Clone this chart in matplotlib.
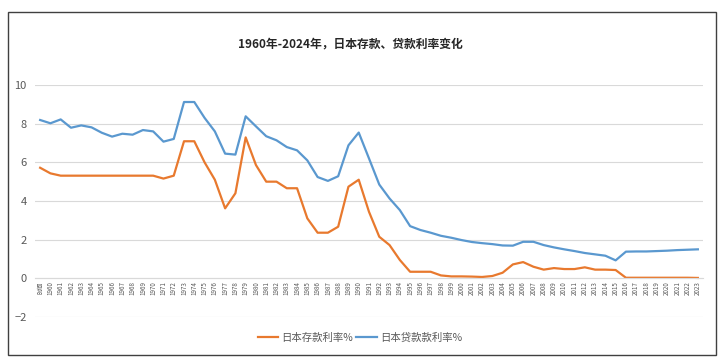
import numpy as np
import matplotlib
matplotlib.use('Agg')
import matplotlib.pyplot as plt
from matplotlib.patches import Rectangle

plt.rcParams['font.family'] = ['Noto Sans CJK SC', 'DejaVu Sans']

# categories (first one is the header cell that slipped into the axis)
categories = ['时间'] + [str(y) for y in range(1960, 2024)]

deposit = [
    5.72, 5.43, 5.31, 5.31, 5.31, 5.31, 5.31, 5.31, 5.31, 5.31,  # 时间, 1960-1968
    5.31, 5.31, 5.16, 5.31, 7.09, 7.09, 6.0, 5.1, 3.62, 4.4,     # 1969-1978
    7.29, 5.86, 5.0, 5.0, 4.66, 4.66, 3.1, 2.36, 2.36, 2.67,     # 1979-1988
    4.74, 5.1, 3.44, 2.15, 1.72, 0.95, 0.34, 0.34, 0.34, 0.15,   # 1989-1998
    0.1, 0.1, 0.09, 0.07, 0.12, 0.29, 0.72, 0.84, 0.6, 0.45,     # 1999-2008
    0.53, 0.48, 0.48, 0.57, 0.45, 0.45, 0.43, 0.03, 0.03, 0.03,  # 2009-2018
    0.03, 0.03, 0.03, 0.03, 0.02,                                # 2019-2023
]
loan = [
    8.19, 8.02, 8.22, 7.79, 7.91, 7.81, 7.53, 7.33, 7.48, 7.43,
    7.67, 7.6, 7.07, 7.21, 9.12, 9.12, 8.3, 7.6, 6.45, 6.4,
    8.38, 7.86, 7.35, 7.14, 6.79, 6.62, 6.1, 5.24, 5.04, 5.28,
    6.88, 7.54, 6.2, 4.85, 4.13, 3.53, 2.7, 2.5, 2.36, 2.2,
    2.1, 1.98, 1.88, 1.82, 1.77, 1.7, 1.69, 1.89, 1.89, 1.72,
    1.6, 1.5, 1.41, 1.31, 1.24, 1.17, 0.93, 1.38, 1.39, 1.39,
    1.41, 1.43, 1.46, 1.48, 1.5,
]

orange = '#E8792E'
blue = '#5A98CF'
text_gray = '#595959'

fig = plt.figure(figsize=(7.2, 3.6), dpi=100)
ax = fig.add_axes([35 / 720, 1 - 317 / 360, 668 / 720, 232 / 360])

x = np.arange(len(categories))
ax.plot(x, deposit, color=orange, lw=1.6, label='日本存款利率%')
ax.plot(x, loan, color=blue, lw=1.6, label='日本贷款款利率%')

ax.set_xlim(-0.5, len(categories) - 0.5)
ax.set_ylim(-2, 10)
ax.set_yticks(np.arange(-2, 11, 2))
ax.yaxis.grid(True, color='#d9d9d9', lw=0.8)
ax.set_axisbelow(True)

for side in ['top', 'right', 'left']:
    ax.spines[side].set_visible(False)
ax.spines['bottom'].set_position(('data', 0))
ax.spines['bottom'].set_color('#d9d9d9')

ax.set_xticks(x)
ax.set_xticklabels(categories, rotation=90, fontsize=4.5, color=text_gray)
ax.tick_params(axis='x', length=0, pad=2)
ax.tick_params(axis='y', length=0, labelsize=8, labelcolor=text_gray, pad=6)

fig.text(350 / 720, 1 - 44 / 360, '1960年-2024年，日本存款、贷款利率变化',
         ha='center', va='center', fontsize=8.5, fontweight='bold', color='#262626')

fig.legend(loc='center', bbox_to_anchor=(0.5, 1 - 338 / 360), ncol=2, frameon=False,
           fontsize=7.5, labelcolor=text_gray, handlelength=2.0, handletextpad=0.3,
           columnspacing=0.3)

# chart frame from the screenshot
fig.patches.append(Rectangle((8 / 720, 1 - 355 / 360), 708 / 720, 343 / 360,
                             transform=fig.transFigure, fill=False,
                             edgecolor='#404040', lw=1.0))

fig.savefig('out.png', dpi=100)
